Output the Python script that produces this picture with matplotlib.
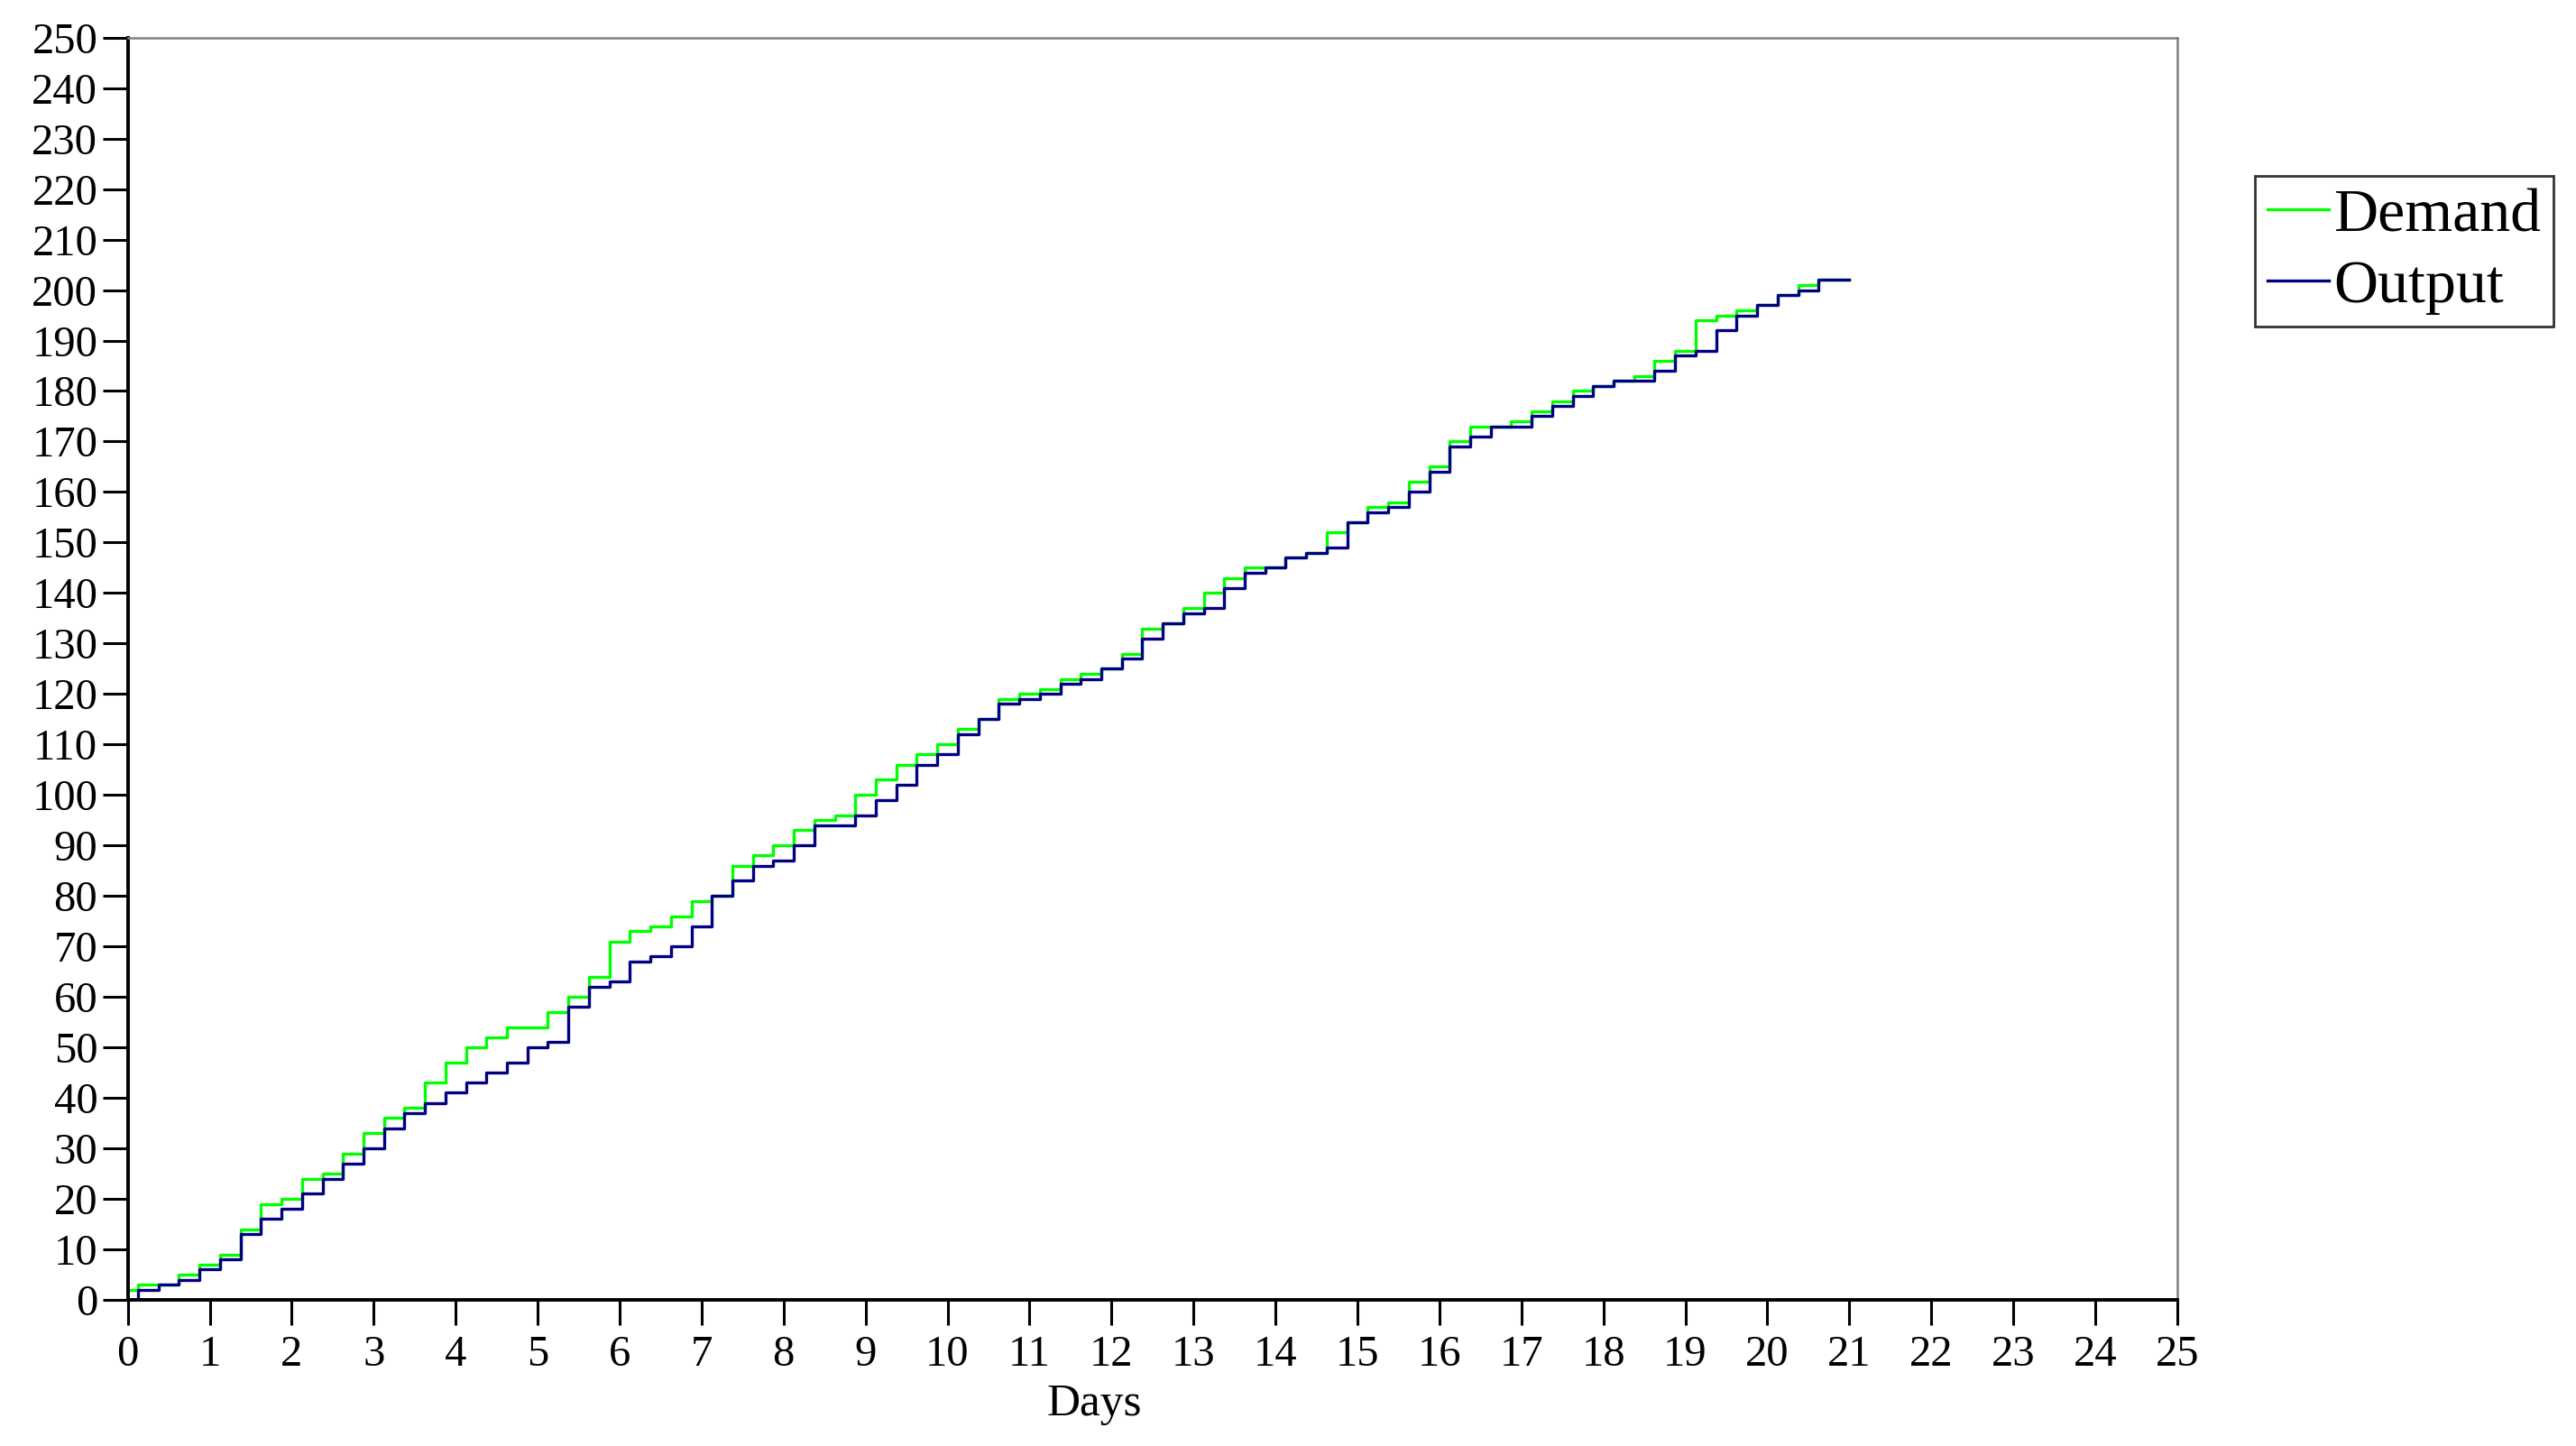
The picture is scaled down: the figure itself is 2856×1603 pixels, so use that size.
import matplotlib
matplotlib.use("Agg")
import matplotlib.pyplot as plt

# sample times (days) and cumulative counts
days = [0, 0.25, 0.5, 0.75, 1, 1.25, 1.5, 1.75, 2, 2.25, 2.5, 2.75,
        3, 3.25, 3.5, 3.75, 4, 4.25, 4.5, 4.75, 5, 5.25, 5.5, 5.75,
        6, 6.25, 6.5, 6.75, 7, 7.25, 7.5, 7.75, 8, 8.25, 8.5, 8.75,
        9, 9.25, 9.5, 9.75, 10, 10.25, 10.5, 10.75, 11, 11.25, 11.5, 11.75,
        12, 12.25, 12.5, 12.75, 13, 13.25, 13.5, 13.75, 14, 14.25, 14.5, 14.75,
        15, 15.25, 15.5, 15.75, 16, 16.25, 16.5, 16.75, 17, 17.25, 17.5, 17.75,
        18, 18.25, 18.5, 18.75, 19, 19.25, 19.5, 19.75, 20, 20.25, 20.5, 20.75,
        21]

demand = [2, 3, 3, 5, 7, 9, 14, 19, 20, 24, 25, 29,
          33, 36, 38, 43, 47, 50, 52, 54, 54, 57, 60, 64,
          71, 73, 74, 76, 79, 80, 86, 88, 90, 93, 95, 96,
          100, 103, 106, 108, 110, 113, 115, 119, 120, 121, 123, 124,
          125, 128, 133, 134, 137, 140, 143, 145, 145, 147, 148, 152,
          154, 157, 158, 162, 165, 170, 173, 173, 174, 176, 178, 180,
          181, 182, 183, 186, 188, 194, 195, 196, 197, 199, 201, 202,
          202]

output = [0, 2, 3, 4, 6, 8, 13, 16, 18, 21, 24, 27,
          30, 34, 37, 39, 41, 43, 45, 47, 50, 51, 58, 62,
          63, 67, 68, 70, 74, 80, 83, 86, 87, 90, 94, 94,
          96, 99, 102, 106, 108, 112, 115, 118, 119, 120, 122, 123,
          125, 127, 131, 134, 136, 137, 141, 144, 145, 147, 148, 149,
          154, 156, 157, 160, 164, 169, 171, 173, 173, 175, 177, 179,
          181, 182, 182, 184, 187, 188, 192, 195, 197, 199, 200, 202,
          202]

x_ticks = list(range(0, 26))
y_ticks = list(range(0, 251, 10))

plt.rcParams['font.family'] = ['Liberation Serif', 'DejaVu Serif']

fig = plt.figure(figsize=(28.56, 16.03), dpi=100)
ax = fig.add_axes([0.0496, 0.1011, 0.7956, 0.8729])

ax.plot(days, demand, color='#00ff00', lw=2.4, drawstyle='steps-mid', label='Demand')
ax.plot(days, output, color='#000080', lw=2.4, drawstyle='steps-mid', label='Output')

ax.set_xlim(0, 25)
ax.set_ylim(0, 250)
ax.set_xticks(x_ticks)
ax.set_yticks(y_ticks)
ax.tick_params(axis='both', direction='out', length=20, width=2.2, colors='black',
               labelsize=35)
ax.tick_params(axis='y', pad=4)
ax.tick_params(axis='x', pad=8)

for side in ['top', 'right']:
    ax.spines[side].set_color('#808080')
    ax.spines[side].set_linewidth(1.8)
for side in ['left', 'bottom']:
    ax.spines[side].set_color('black')
    ax.spines[side].set_linewidth(2.8)

ax.set_xlabel('Days', fontsize=37)
ax.xaxis.label.set_va('center')
ax.xaxis.set_label_coords(0.4715, -0.083)

leg = fig.legend(loc='upper left', bbox_to_anchor=(0.8754, 0.8784), fontsize=49,
                 frameon=True, fancybox=False, borderpad=0.2, handlelength=1.0,
                 handletextpad=0.08, labelspacing=0.25, borderaxespad=0)
leg.get_frame().set_edgecolor('black')
leg.get_frame().set_linewidth(2)
for line in leg.get_lines():
    line.set_linewidth(2.4)

fig.savefig('out.png', dpi=100)
